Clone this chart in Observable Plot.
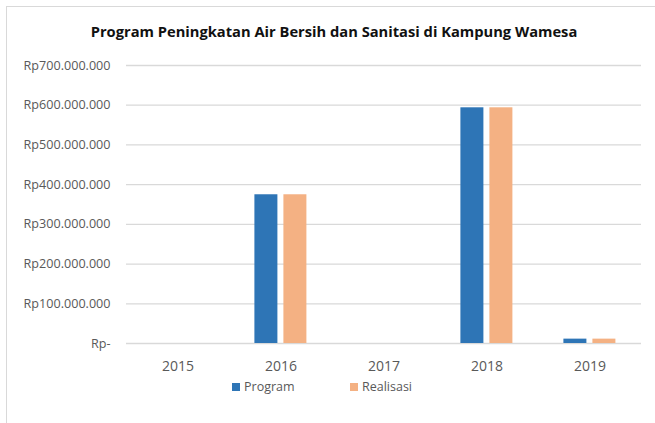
<!DOCTYPE html>
<html>
<head>
<meta charset="utf-8">
<script src="https://cdn.jsdelivr.net/npm/d3@7"></script>
<script src="https://cdn.jsdelivr.net/npm/@observablehq/plot@0.6"></script>
<style>
  html, body { margin: 0; padding: 0; background: #fff; }
  #wrap { position: relative; width: 655px; height: 423px; overflow: hidden; font-family: "Open Sans", sans-serif; }
  #frame { position: absolute; left: 6px; top: 6px; width: 660px; height: 430px; border-left: 1.3px solid #d9d9d9; border-top: 1.3px solid #d9d9d9; box-sizing: border-box; }
  #title { position: absolute; left: 0; width: 668px; top: 21px; text-align: center; font-weight: bold; font-size: 14.7px; color: #111; white-space: nowrap; }
  #chart { position: absolute; left: 0; top: 50px; }
  .legend { position: absolute; top: 378px; font-size: 12.5px; color: #595959; display: flex; align-items: center; }
  .legend span.sw { display: inline-block; width: 8px; height: 8px; margin-right: 4px; }
</style>
</head>
<body>
<div id="wrap">
  <div id="frame"></div>
  <div id="title"></div>
  <div id="chart"></div>
  <div id="legend"></div>
</div>
<script>
const titleText = "Program Peningkatan Air Bersih dan Sanitasi di Kampung Wamesa";
const years = ["2015", "2016", "2017", "2018", "2019"];
const seriesNames = ["Program", "Realisasi"];
const programValues = [0, 374500000, 0, 593500000, 11000000];
const realisasiValues = [0, 374500000, 0, 593500000, 11000000];
const seriesColors = ["#2E75B6", "#F4B183"];
const yTicks = [0, 100000000, 200000000, 300000000, 400000000, 500000000, 600000000, 700000000];

const data = [];
years.forEach((y, i) => {
  data.push({year: y, series: seriesNames[0], value: programValues[i]});
  data.push({year: y, series: seriesNames[1], value: realisasiValues[i]});
});

const fmt = d3.formatLocale({decimal: ",", thousands: ".", grouping: [3], currency: ["Rp", ""]}).format(",.0f");
const yFormat = d => d === 0 ? "Rp-" : "Rp" + fmt(d);

document.getElementById("title").textContent = titleText;

const chart = Plot.plot({
  width: 655,
  height: 330,
  marginLeft: 125.6,
  marginRight: 13.1,
  marginTop: 15,
  marginBottom: 37,
  style: {fontFamily: "Open Sans, sans-serif", fontSize: "12.6px", color: "#595959", background: "transparent"},
  fx: {domain: years, padding: 0, label: null, tickSize: 0, tickPadding: 18, axis: "bottom"},
  x: {domain: seriesNames, axis: null, paddingInner: 0.207, paddingOuter: 0.879},
  y: {domain: [0, 700000000], ticks: yTicks, tickFormat: yFormat, tickSize: 0, tickPadding: 16, label: null},
  color: {domain: seriesNames, range: seriesColors},
  facet: {data: data, x: "year"},
  marks: [
    Plot.ruleY(yTicks, {stroke: "#d9d9d9", strokeWidth: 1.3}),
    Plot.barY(data, {x: "series", y: "value", fill: "series"})
  ]
});
chart.querySelectorAll('g[aria-label="fx-axis"] text, g[aria-label="fx-axis tick label"] text').forEach(t => t.style.fontSize = "14px");
document.getElementById("chart").appendChild(chart);

const legend = document.getElementById("legend");
const legendLeft = [232, 350];
seriesNames.forEach((name, i) => {
  const item = document.createElement("div");
  item.className = "legend";
  item.style.left = legendLeft[i] + "px";
  const sw = document.createElement("span");
  sw.className = "sw";
  sw.style.background = seriesColors[i];
  item.appendChild(sw);
  item.appendChild(document.createTextNode(name));
  legend.appendChild(item);
});
</script>
</body>
</html>
